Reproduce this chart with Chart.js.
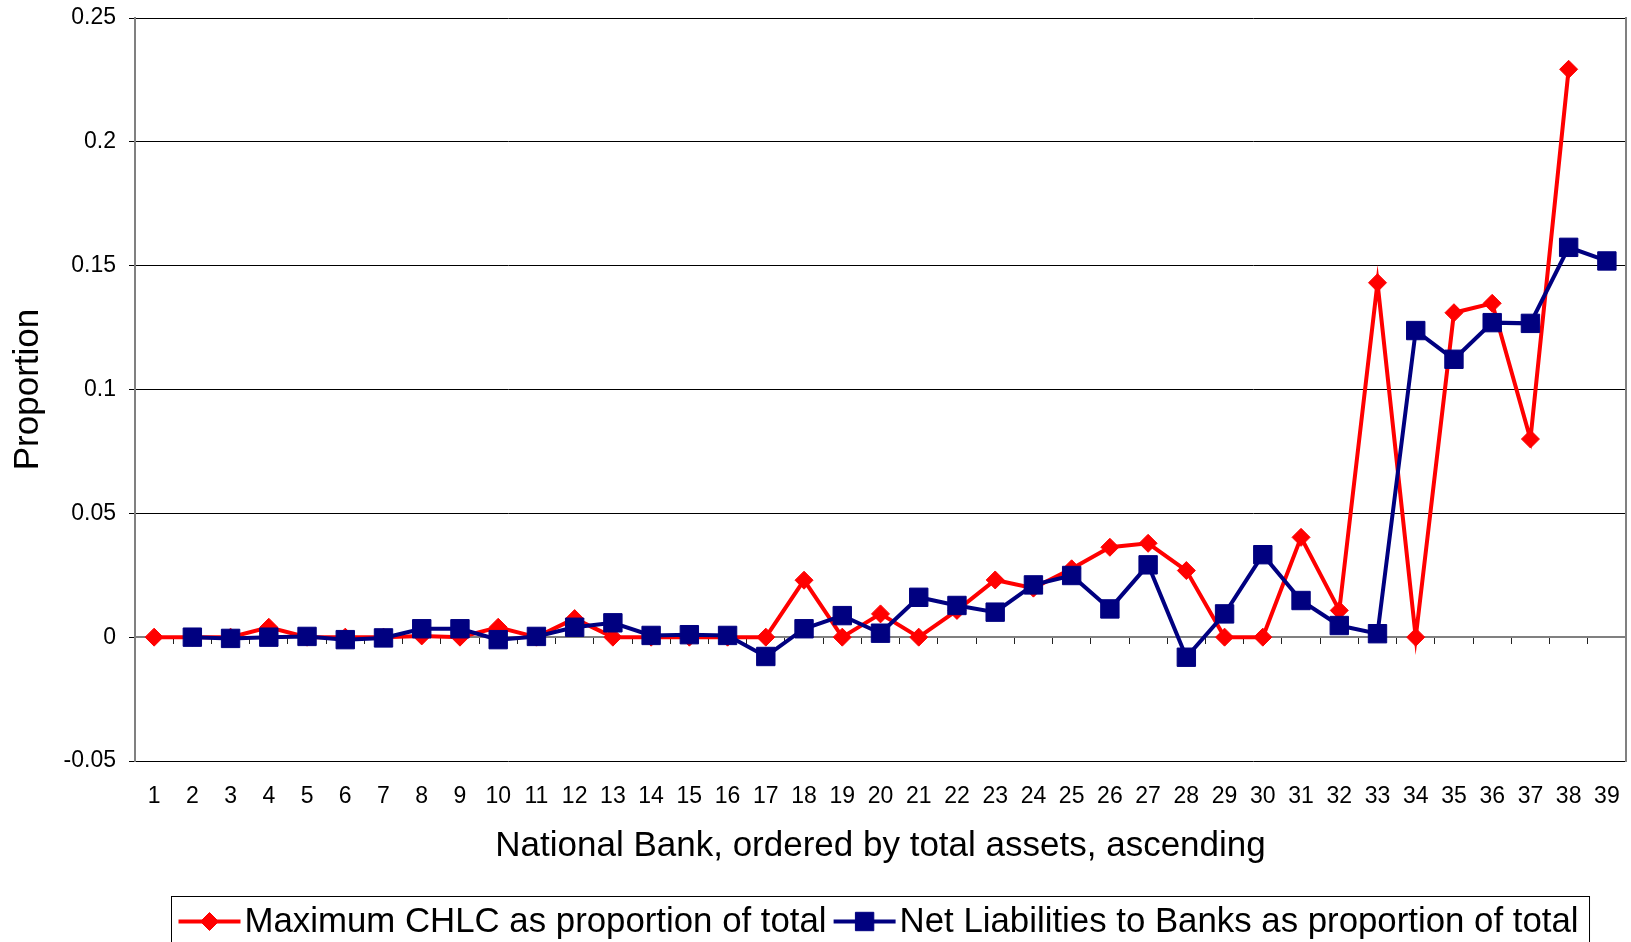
<!DOCTYPE html>
<html>
<head>
<meta charset="utf-8">
<title>National banks: CHLC and net liabilities</title>
<script src="https://cdn.jsdelivr.net/npm/chart.js@4/dist/chart.umd.min.js"></script>
<style>
  html, body { margin: 0; padding: 0; background: #fff; overflow: hidden; }
  .wrap { position: relative; width: 1631px; height: 942px; }
  canvas { display: block; }
</style>
</head>
<body>
<div class="wrap"><canvas id="chart"></canvas></div>
<script>
// banks ordered by total assets, smallest first
const banks = ['1','2','3','4','5','6','7','8','9','10','11','12','13','14','15','16','17','18','19','20',
  '21','22','23','24','25','26','27','28','29','30','31','32','33','34','35','36','37','38','39'];

const maxChlc = [0, 0, 0, 0.004, 0, 0, 0, 0.0005, 0, 0.004, 0, 0.0075, 0, 0, 0, 0, 0, 0.023, 0, 0.0094,
  0, 0.0108, 0.0231, 0.0198, 0.0276, 0.0363, 0.0379, 0.0269, 0, 0, 0.0403, 0.0108, 0.1431, 0, 0.131,
  0.1348, 0.08, 0.2293, null];

const netLiab = [null, 0, -0.0005, 0, 0.0003, -0.001, -0.0003, 0.0034, 0.0034, -0.001, 0.0003, 0.004,
  0.0058, 0.0007, 0.001, 0.0007, -0.0078, 0.0034, 0.0087, 0.0016, 0.0161, 0.0128, 0.0101, 0.0211,
  0.0249, 0.0114, 0.0292, -0.0081, 0.0094, 0.0333, 0.0148, 0.0047, 0.0014, 0.1238, 0.1122, 0.127,
  0.1267, 0.1574, 0.1519];

const yTickValues = [-0.05, 0, 0.05, 0.1, 0.15, 0.2, 0.25];
const yTickLabels = ['-0.05', '0', '0.05', '0.1', '0.15', '0.2', '0.25'];

const FONT = "'Liberation Sans', Arial, sans-serif";
const AXIS_GREY = '#808080';

// boxed legend under the axis title, each entry shows a line segment with its marker
const legendBox = {
  id: 'legendBox',
  afterDraw(chart) {
    const {ctx, chartArea} = chart;
    const xAxis = chart.scales.x;
    const size = 34.8, pad = 7, seg = 62;
    ctx.save();
    ctx.font = size + 'px ' + FONT;
    const items = chart.data.datasets.map(ds => ({ds, w: ctx.measureText(ds.label).width}));
    let total = pad * 2 + 4;
    items.forEach((it, i) => { total += seg + 4 + it.w + (i ? 7 : 0); });
    const left = Math.round((chartArea.left + chartArea.right) / 2 - total / 2) + 0.5;
    const top = Math.round(xAxis.bottom + 29) + 0.5;
    const cy = top + 25;
    ctx.strokeStyle = '#000';
    ctx.lineWidth = 1;
    ctx.strokeRect(left, top, total, chart.height - top + 5);
    let x = left + pad;
    items.forEach((it, i) => {
      if (i) x += 7;
      const ds = it.ds;
      ctx.strokeStyle = ds.borderColor;
      ctx.lineWidth = ds.borderWidth;
      ctx.beginPath();
      ctx.moveTo(x, cy);
      ctx.lineTo(x + seg, cy);
      ctx.stroke();
      ctx.fillStyle = ds.pointBackgroundColor;
      ctx.strokeStyle = ds.pointBorderColor;
      ctx.lineWidth = 1;
      Chart.helpers.drawPoint(ctx, {pointStyle: ds.pointStyle, radius: ds.pointRadius, rotation: 0, borderWidth: 1}, x + seg / 2, cy);
      x += seg + 4;
      ctx.fillStyle = '#000';
      ctx.textBaseline = 'middle';
      ctx.textAlign = 'left';
      ctx.fillText(ds.label, x, cy + 1);
      x += it.w;
    });
    ctx.restore();
  }
};

new Chart(document.getElementById('chart'), {
  type: 'line',
  data: {
    labels: banks,
    datasets: [{
      label: 'Maximum CHLC as proportion of total',
      data: maxChlc,
      borderColor: '#ff0000',
      backgroundColor: '#ff0000',
      borderWidth: 4,
      pointStyle: 'rectRot',
      pointRadius: 9,
      pointBackgroundColor: '#ff0000',
      pointBorderColor: '#ff0000',
      pointBorderWidth: 1,
      tension: 0,
      order: 1
    }, {
      label: 'Net Liabilities to Banks as proportion of total',
      data: netLiab,
      borderColor: '#000080',
      backgroundColor: '#000080',
      borderWidth: 4,
      pointStyle: 'rect',
      pointRadius: 13,
      pointBackgroundColor: '#000080',
      pointBorderColor: '#000080',
      pointBorderWidth: 1,
      tension: 0,
      order: 0
    }]
  },
  options: {
    responsive: true,
    maintainAspectRatio: false,
    animation: false,
    events: [],
    layout: { autoPadding: false, padding: { top: 18, right: 5, bottom: 75, left: 0 } },
    plugins: {
      legend: { display: false },
      tooltip: { enabled: false }
    },
    scales: {
      x: {
        type: 'category',
        offset: true,
        afterFit: s => { s.height = 106; s.paddingLeft = 0; s.paddingRight = 0; },
        grid: { display: false, drawTicks: false },
        border: { display: false },
        ticks: { color: '#000', padding: 22, maxRotation: 0, autoSkip: false, font: { family: FONT, size: 23 } },
        title: {
          display: true,
          text: 'National Bank, ordered by total assets, ascending',
          color: '#000',
          font: { family: FONT, size: 35, lineHeight: 1.2 },
          padding: { top: 0, bottom: 0 }
        }
      },
      // category axis line running along zero, ticks between banks
      x0: {
        type: 'category',
        axis: 'x',
        offset: true,
        position: { y: 0 },
        ticks: { display: false },
        afterFit: s => { s.paddingLeft = 0; s.paddingRight = 0; },
        grid: { offset: true, drawOnChartArea: false, drawTicks: true, tickLength: 6, color: '#222', lineWidth: 1 },
        border: { display: true, color: AXIS_GREY, width: 2 }
      },
      y: {
        position: 'left',
        min: -0.05,
        max: 0.25,
        afterFit: s => { s.width = 135; s.paddingTop = 0; s.paddingBottom = 0; },
        afterBuildTicks: s => { s.ticks = yTickValues.map(v => ({ value: v })); },
        grid: { color: '#000', lineWidth: 1, tickLength: 6 },
        border: { color: AXIS_GREY, width: 2 },
        ticks: {
          color: '#000',
          padding: 13,
          font: { family: FONT, size: 23 },
          callback: (v, i) => yTickLabels[i]
        },
        title: {
          display: true,
          text: 'Proportion',
          color: '#000',
          font: { family: FONT, size: 35, lineHeight: 1.2 },
          padding: { top: 7, bottom: 0 }
        }
      },
      // right-hand frame of the plot area
      yR: {
        position: 'right',
        min: -0.05,
        max: 0.25,
        afterFit: s => { s.width = 0; s.paddingTop = 0; s.paddingBottom = 0; },
        ticks: { display: false },
        grid: { display: false, drawTicks: false },
        border: { color: AXIS_GREY, width: 2 }
      }
    }
  },
  plugins: [legendBox]
});
</script>
</body>
</html>
